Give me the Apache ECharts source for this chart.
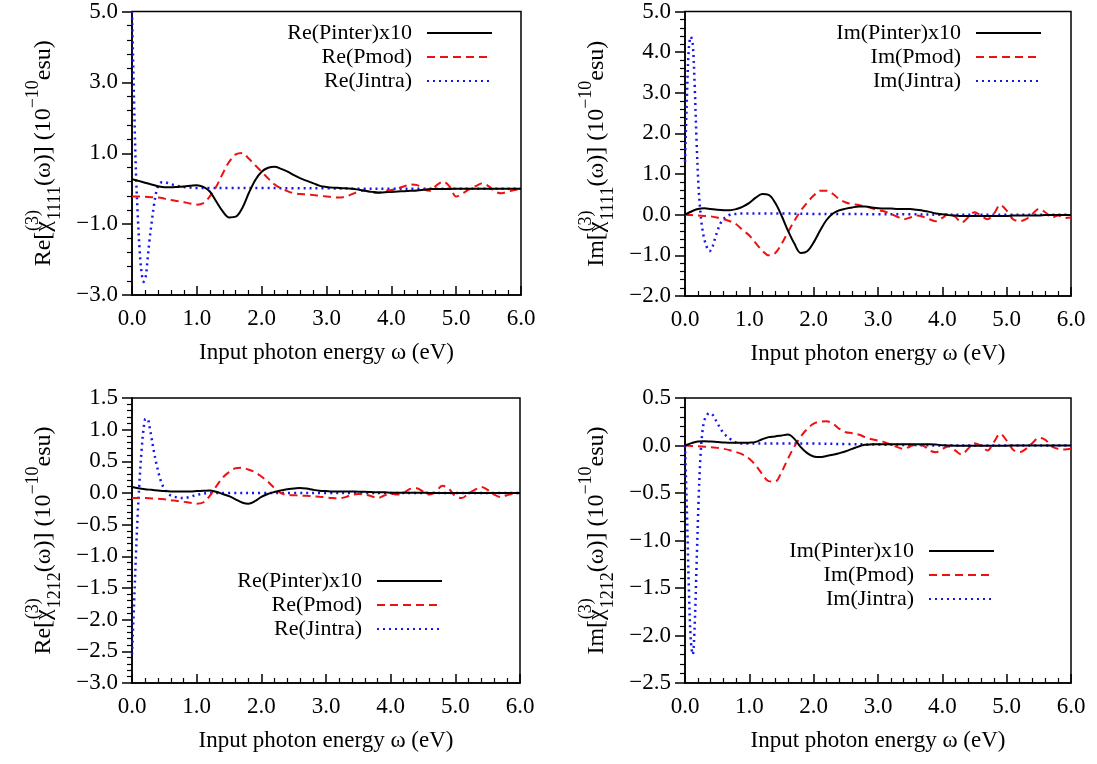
<!DOCTYPE html>
<html><head><meta charset="utf-8">
<script src="https://cdn.jsdelivr.net/npm/echarts@6/dist/echarts.min.js"></script>
<style>html,body{margin:0;padding:0;background:#fff}#c{width:1097px;height:764px}</style>
</head><body><div id="c"></div><script>
// ---- data ----
const energy = [0.0,0.1,0.2,0.3,0.4,0.5,0.6,0.7,0.8,0.9,1.0,1.1,1.2,1.3,1.4,1.5,1.6,1.7,1.8,1.9,2.0,2.1,2.2,2.3,2.4,2.5,2.6,2.7,2.8,2.9,3.0,3.1,3.2,3.3,3.4,3.5,3.6,3.7,3.8,3.9,4.0,4.1,4.2,4.3,4.4,4.5,4.6,4.7,4.8,4.9,5.0,5.1,5.2,5.3,5.4,5.5,5.6,5.7,5.8,5.9,6.0];
const jintraEnergy = [0,0.03,0.06,0.09,0.12,0.15,0.18,0.21,0.24,0.27,0.3,0.34,0.38,0.42,0.46,0.5,0.55,0.6,0.7,0.8,0.9,1.0,1.2,1.5,2.0,2.5,3.0,3.5,4.0,4.5,5.0,5.5,6.0];

// Re chi1111
const rePinter1111 = [0.27,0.22,0.17,0.12,0.07,0.04,0.04,0.05,0.06,0.08,0.1,0.05,-0.08,-0.36,-0.64,-0.81,-0.79,-0.55,-0.13,0.24,0.48,0.59,0.62,0.56,0.48,0.38,0.29,0.22,0.15,0.08,0.05,0.03,0.02,0.01,0.0,-0.03,-0.06,-0.09,-0.11,-0.1,-0.09,-0.08,-0.07,-0.06,-0.05,-0.03,-0.01,-0.01,-0.01,-0.01,0,0,0,0,0,0,0,0,0,0,0];
const rePmod1111 = [-0.22,-0.22,-0.23,-0.24,-0.25,-0.28,-0.32,-0.35,-0.38,-0.42,-0.45,-0.41,-0.22,0.06,0.43,0.76,0.97,1.01,0.85,0.66,0.48,0.29,0.12,0.01,-0.07,-0.13,-0.15,-0.16,-0.18,-0.2,-0.22,-0.24,-0.25,-0.22,-0.15,-0.08,-0.06,-0.11,-0.12,-0.06,-0.04,0.01,0.07,0.12,0.1,-0.02,-0.06,0.1,0.2,0.06,-0.22,-0.13,-0.02,0.07,0.15,0.07,-0.08,-0.13,-0.08,-0.04,0.0];
const reJintra1111 = [5.0,2.6,0.5,-0.8,-1.8,-2.4,-2.63,-2.5,-2.0,-1.45,-1.0,-0.45,-0.05,0.13,0.18,0.18,0.16,0.13,0.08,0.05,0.03,0.02,0.02,0.02,0.02,0.01,0.01,0,0,0,0,0,0];

// Im chi1111
const imPinter1111 = [0.0,0.08,0.14,0.16,0.14,0.12,0.11,0.11,0.14,0.2,0.29,0.42,0.51,0.49,0.3,-0.02,-0.39,-0.71,-0.94,-0.9,-0.68,-0.39,-0.13,0.03,0.11,0.15,0.18,0.2,0.2,0.18,0.16,0.15,0.15,0.14,0.14,0.14,0.12,0.1,0.07,0.03,0.01,-0.01,-0.02,-0.03,-0.03,-0.03,-0.03,-0.03,-0.03,-0.03,-0.03,-0.02,-0.02,-0.02,-0.02,-0.02,-0.01,-0.01,-0.01,-0.01,-0.01];
const imPmod1111 = [0,-0.01,-0.02,-0.03,-0.04,-0.07,-0.11,-0.16,-0.24,-0.38,-0.51,-0.7,-0.88,-1.0,-0.95,-0.72,-0.43,-0.15,0.1,0.3,0.47,0.59,0.59,0.51,0.38,0.3,0.26,0.24,0.2,0.16,0.11,0.08,0.02,-0.05,-0.11,-0.07,-0.02,-0.05,-0.11,-0.16,-0.08,0.02,-0.05,-0.19,-0.07,0.06,-0.02,-0.11,0.02,0.24,0.1,-0.11,-0.16,-0.11,0.02,0.14,0.06,-0.07,-0.02,-0.08,-0.07];
const imJintra1111 = [1.3,2.9,4.1,4.38,4.2,3.2,1.8,0.7,0.05,-0.35,-0.6,-0.8,-0.9,-0.82,-0.62,-0.42,-0.22,-0.1,0.0,0.02,0.03,0.03,0.03,0.03,0.02,0.02,0.01,0.01,0,0,0,0,0];

// Re chi1212
const rePinter1212 = [0.095,0.075,0.06,0.05,0.04,0.03,0.025,0.025,0.025,0.025,0.03,0.035,0.04,0.02,-0.015,-0.05,-0.1,-0.15,-0.17,-0.13,-0.06,-0.015,0.015,0.04,0.06,0.07,0.08,0.07,0.05,0.035,0.03,0.025,0.025,0.025,0.025,0.02,0.02,0.015,0.01,0.01,0.005,0.005,0.005,0.005,0.005,0.005,0,0,0,0,0,0,0,0,0,0,0,0,0,0,0];
const rePmod1212 = [-0.08,-0.08,-0.08,-0.085,-0.09,-0.1,-0.115,-0.125,-0.14,-0.155,-0.17,-0.15,-0.05,0.1,0.24,0.33,0.39,0.4,0.37,0.33,0.26,0.18,0.08,0.0,-0.03,-0.035,-0.04,-0.045,-0.05,-0.06,-0.07,-0.08,-0.085,-0.065,-0.03,-0.015,-0.025,-0.05,-0.08,-0.04,-0.01,-0.025,0.0,0.065,0.075,0.025,-0.025,0.025,0.115,0.065,-0.05,-0.08,-0.01,0.05,0.095,0.05,-0.025,-0.065,-0.035,-0.01,0];
const reJintra1212 = [-2.55,-1.8,-1.0,-0.3,0.25,0.7,1.02,1.17,1.17,1.05,0.88,0.65,0.45,0.28,0.15,0.07,0.0,-0.04,-0.07,-0.08,-0.06,-0.03,0.0,0.0,0.0,0,0,0,0,0,0,0,0];

// Im chi1212
const imPinter1212 = [0,0.025,0.042,0.045,0.042,0.038,0.032,0.028,0.028,0.028,0.03,0.038,0.066,0.088,0.095,0.105,0.115,0.07,-0.017,-0.08,-0.115,-0.122,-0.11,-0.098,-0.08,-0.06,-0.035,-0.01,0.007,0.012,0.014,0.014,0.014,0.014,0.014,0.014,0.014,0.014,0.014,0.01,0.003,0,-0.003,-0.003,-0.003,-0.003,-0.003,-0.002,-0.002,-0.002,-0.002,0,0,0,0,0,0,0,0,0,0];
const imPmod1212 = [0,-0.004,-0.007,-0.012,-0.017,-0.025,-0.035,-0.05,-0.07,-0.095,-0.14,-0.21,-0.3,-0.375,-0.38,-0.28,-0.14,-0.01,0.095,0.175,0.23,0.252,0.255,0.23,0.175,0.14,0.13,0.115,0.088,0.066,0.052,0.035,0.01,-0.017,-0.035,-0.01,0.007,0,-0.052,-0.07,-0.035,-0.01,-0.052,-0.095,-0.035,0.025,0,-0.052,0.035,0.122,0.052,-0.045,-0.07,-0.035,0.025,0.08,0.06,-0.01,-0.035,-0.042,-0.035];
const imJintra1212 = [0.0,-0.7,-1.5,-2.05,-2.2,-1.9,-1.25,-0.6,-0.12,0.14,0.26,0.32,0.34,0.33,0.29,0.24,0.18,0.13,0.07,0.03,0.02,0.02,0.02,0.02,0.02,0.015,0.01,0.005,0,0,0,0,0];

const xTicks = {min: 0, max: 6, interval: 1};
const yRanges = [
  {min: -3, max: 5, interval: 2},
  {min: -2, max: 5, interval: 1},
  {min: -3, max: 1.5, interval: 0.5},
  {min: -2.5, max: 0.5, interval: 0.5}
];
const legendNames = [
  ['Re(Pinter)x10','Re(Pmod)','Re(Jintra)'],
  ['Im(Pinter)x10','Im(Pmod)','Im(Jintra)'],
  ['Re(Pinter)x10','Re(Pmod)','Re(Jintra)'],
  ['Im(Pinter)x10','Im(Pmod)','Im(Jintra)']
];
const xTitle = 'Input photon energy ω (eV)';
const yTitleParts = [
  ['Re', '1111'], ['Im', '1111'], ['Re', '1212'], ['Im', '1212']
];
const panelData = [
  [rePinter1111, rePmod1111, reJintra1111],
  [imPinter1111, imPmod1111, imJintra1111],
  [rePinter1212, rePmod1212, reJintra1212],
  [imPinter1212, imPmod1212, imJintra1212]
];

// ---- layout / style ----
const FONT = 'Liberation Serif';
const grids = [
  {left: 132, top: 10, width: 389, height: 285},
  {left: 685, top: 10, width: 386, height: 286},
  {left: 132, top: 398, width: 388, height: 285},
  {left: 685, top: 398, width: 386, height: 285}
];
const legendPos = [
  {right: 604, top: 22},
  {right: 55, top: 22},
  {right: 654, top: 570},
  {right: 102, top: 540}
];
const styles = [
  {color: '#000000', type: 'solid', width: 2},
  {color: '#ee1111', type: [8, 5], width: 2},
  {color: '#1515ee', type: [2, 4], width: 2.5}
];
const fmt = v => v.toFixed(1).replace('-', '\u2212');

const option = {
  backgroundColor: '#ffffff',
  animation: false,
  grid: grids.map(g => Object.assign({show: true, borderColor: '#000', borderWidth: 1.5, backgroundColor: 'transparent'}, g)),
  legend: legendPos.map((p, i) => Object.assign({
    data: legendNames[i],
    orient: 'vertical',
    align: 'right',
    itemWidth: 65,
    itemHeight: 12,
    itemGap: 2,
    padding: 0,
    selectedMode: false,
    itemStyle: {opacity: 0},
    textStyle: {fontFamily: FONT, fontSize: 22, color: '#000', padding: [0, 10, 0, 0], lineHeight: 22}
  }, p)),
  xAxis: grids.map((g, i) => ({
    type: 'value', gridIndex: i, min: xTicks.min, max: xTicks.max, interval: xTicks.interval,
    name: xTitle, nameLocation: 'middle', nameGap: 46,
    nameTextStyle: {fontFamily: FONT, fontSize: 23, color: '#000'},
    axisLine: {onZero: false, lineStyle: {color: '#000', width: 1.5}},
    axisTick: {inside: true, length: 9, lineStyle: {color: '#000', width: 1.5}},
    minorTick: {show: true, splitNumber: 5, length: 5, lineStyle: {color: '#000', width: 1.2}},
    splitLine: {show: false},
    axisLabel: {fontFamily: FONT, fontSize: 23, color: '#000', margin: 12, formatter: fmt}
  })),
  yAxis: grids.map((g, i) => ({
    type: 'value', gridIndex: i, min: yRanges[i].min, max: yRanges[i].max, interval: yRanges[i].interval,
    name: '{n|' + yTitleParts[i][0] + '[χ}{sup|(3)}{sub|' + yTitleParts[i][1] + '}{n|(ω)] (10}{sup2|\u221210}{n|esu)}',
    nameLocation: 'middle', nameRotate: 90, nameGap: 68,
    nameTextStyle: {
      fontFamily: FONT, fontSize: 24, color: '#000',
      rich: {
        n: {fontFamily: FONT, fontSize: 24, color: '#000', lineHeight: 40, verticalAlign: 'middle'},
        sup: {fontFamily: FONT, fontSize: 18, color: '#000', lineHeight: 18, verticalAlign: 'top', width: 1},
        sup2: {fontFamily: FONT, fontSize: 18, color: '#000', lineHeight: 18, verticalAlign: 'top'},
        sub: {fontFamily: FONT, fontSize: 18, color: '#000', lineHeight: 18, verticalAlign: 'bottom'}
      }
    },
    axisLine: {onZero: false, lineStyle: {color: '#000', width: 1.5}},
    axisTick: {inside: false, length: 10, lineStyle: {color: '#000', width: 1.5}},
    minorTick: {show: true, splitNumber: 5, length: 5, lineStyle: {color: '#000', width: 1.2}},
    splitLine: {show: false},
    axisLabel: {fontFamily: FONT, fontSize: 23, color: '#000', margin: 14, formatter: fmt}
  })),
  series: []
};

panelData.forEach((arrs, i) => {
  arrs.forEach((vals, k) => {
    const xs = k === 2 ? jintraEnergy : energy;
    option.series.push({
      type: 'line', name: legendNames[i][k], xAxisIndex: i, yAxisIndex: i,
      data: xs.map((x, j) => [x, vals[j]]),
      showSymbol: false, symbol: 'none', smooth: 0.35, clip: true,
      lineStyle: styles[k], itemStyle: {color: styles[k].color}, z: 5 - k
    });
  });
});

const chart = echarts.init(document.getElementById('c'), null, {renderer: 'canvas'});
chart.setOption(option);
</script></body></html>
